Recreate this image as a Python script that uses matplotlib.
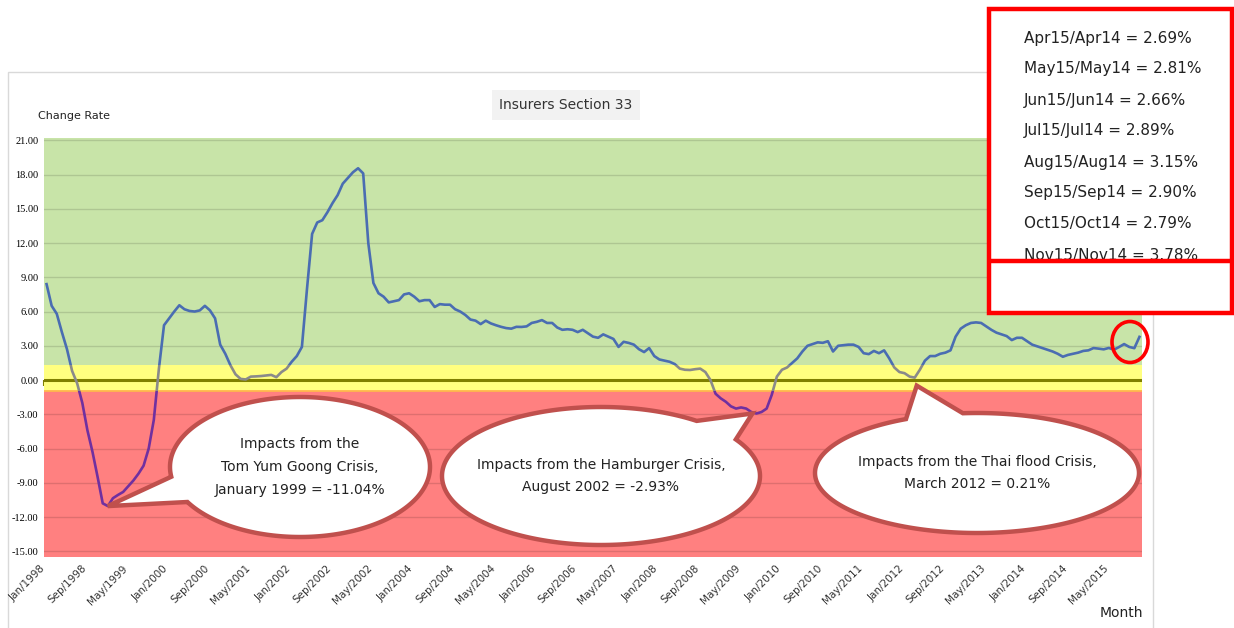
import numpy as np
import matplotlib.pyplot as plt
from matplotlib.patches import Rectangle, Ellipse, Polygon

W, H = 1234, 628

# monthly change rate (%), Jan 1998 .. Nov 2015
r1998 = [8.4, 6.5, 5.8, 4.2, 2.7, 0.8, -0.3, -2.0, -4.4, -6.3, -8.5, -10.8]
r1999 = [-11.04, -10.35, -10.06, -9.8, -9.3, -8.8, -8.2, -7.5, -6.0, -3.5, 1.0, 4.8]
r2000 = [5.4, 6.0, 6.55, 6.2, 6.05, 6.0, 6.1, 6.5, 6.1, 5.4, 3.1, 2.3]
r2001 = [1.3, 0.5, 0.1, 0.05, 0.3, 0.32, 0.35, 0.4, 0.45, 0.25, 0.7, 1.0]
r2002 = [1.6, 2.1, 2.9, 8.0, 12.8, 13.8, 14.0, 14.7, 15.5, 16.2, 17.2, 17.7]
r2003 = [18.2, 18.55, 18.1, 12.0, 8.5, 7.6, 7.3, 6.8, 6.9, 7.0, 7.5, 7.6]
r2004 = [7.3, 6.9, 7.0, 7.0, 6.4, 6.65, 6.6, 6.6, 6.2, 6.0, 5.7, 5.3]
r2005 = [5.2, 4.9, 5.2, 4.96, 4.8, 4.66, 4.55, 4.5, 4.66, 4.65, 4.7, 5.0]
r2006 = [5.1, 5.25, 5.0, 5.0, 4.6, 4.4, 4.45, 4.4, 4.2, 4.4, 4.1, 3.8]
r2007 = [3.7, 4.0, 3.8, 3.6, 2.9, 3.35, 3.25, 3.1, 2.7, 2.45, 2.8, 2.1]
r2008 = [1.8, 1.7, 1.6, 1.4, 1.0, 0.9, 0.88, 0.95, 1.0, 0.7, 0.0, -1.2]
r2009 = [-1.6, -1.9, -2.3, -2.5, -2.4, -2.5, -2.8, -2.93, -2.8, -2.5, -1.3, 0.3]
r2010 = [0.9, 1.1, 1.5, 1.9, 2.5, 3.0, 3.15, 3.3, 3.26, 3.4, 2.5, 3.0]
r2011 = [3.05, 3.1, 3.1, 2.9, 2.35, 2.27, 2.55, 2.35, 2.6, 1.9, 1.1, 0.7]
r2012 = [0.6, 0.3, 0.21, 0.9, 1.7, 2.1, 2.1, 2.3, 2.4, 2.6, 3.8, 4.5]
r2013 = [4.8, 5.0, 5.05, 5.0, 4.7, 4.4, 4.15, 4.0, 3.85, 3.5, 3.7, 3.7]
r2014 = [3.4, 3.1, 2.95, 2.8, 2.65, 2.5, 2.3, 2.04, 2.2, 2.3, 2.4, 2.55]
r2015 = [2.6, 2.8, 2.75, 2.69, 2.81, 2.66, 2.89, 3.15, 2.90, 2.79, 3.78]

rate = np.array(r1998 + r1999 + r2000 + r2001 + r2002 + r2003 + r2004 + r2005 + r2006
                + r2007 + r2008 + r2009 + r2010 + r2011 + r2012 + r2013 + r2014 + r2015)
idx = np.arange(len(rate))

tick_labels = ['Jan/1998', 'Sep/1998', 'May/1999', 'Jan/2000', 'Sep/2000', 'May/2001',
               'Jan/2002', 'Sep/2002', 'May/2002', 'Jan/2004', 'Sep/2004', 'May/2004',
               'Jan/2006', 'Sep/2006', 'May/2007', 'Jan/2008', 'Sep/2008', 'May/2009',
               'Jan/2010', 'Sep/2010', 'May/2011', 'Jan/2012', 'Sep/2012', 'May/2013',
               'Jan/2014', 'Sep/2014', 'May/2015']
yticks = np.arange(-15, 22, 3)

box_lines = ['Apr15/Apr14 = 2.69%', 'May15/May14 = 2.81%', 'Jun15/Jun14 = 2.66%',
             'Jul15/Jul14 = 2.89%', 'Aug15/Aug14 = 3.15%', 'Sep15/Sep14 = 2.90%',
             'Oct15/Oct14 = 2.79%', 'Nov15/Nov14 = 3.78%']

ylo, yhi = -15.5, 21.2
band_lo, band_hi = -1.0, 1.3


def fx(x, y):
    return x / W, 1 - y / H


fig = plt.figure(figsize=(W / 100, H / 100), dpi=100)

# outer chart frame
fig.add_artist(Rectangle(fx(8, 640), 1145 / W, 568 / H, transform=fig.transFigure,
                         fill=False, ec='#d9d9d9', lw=1, zorder=0))

ax = fig.add_axes([44 / W, 1 - 557 / H, (1142 - 44) / W, (557 - 138) / H])
ax.set_xlim(-0.5, len(rate) - 0.5)
ax.set_ylim(ylo, yhi)

ax.axhspan(band_hi, yhi, color='#c8e4a8', zorder=0.1, lw=0)
ax.axhspan(band_lo, band_hi, color='#ffff80', zorder=0.1, lw=0)
ax.axhspan(ylo, band_lo, color='#ff8080', zorder=0.1, lw=0)
ax.axhline(band_lo, color='#ffb84d', lw=1.3, zorder=0.2)

ax.set_axisbelow(True)
ax.set_yticks(yticks)
ax.set_yticklabels([f'{v:.2f}' for v in yticks], fontsize=7.5, family='Liberation Serif')
ax.grid(axis='y', color='black', alpha=0.13, lw=1)
ax.tick_params(axis='y', length=0, pad=4)

ax.set_xticks(idx[::8] - 0.5)
ax.set_xticklabels(tick_labels, rotation=45, ha='right', va='center',
                   rotation_mode='anchor', fontsize=7.5, color='#333333')
ax.tick_params(axis='x', length=0, pad=7)
for s in ax.spines.values():
    s.set_visible(False)

# zero line with tick marks
ax.axhline(0, color='#7f7f00', lw=2.2, zorder=1.5)
sec = ax.secondary_xaxis((0 - ylo) / (yhi - ylo))
sec.set_xticks(idx[::8] - 0.5)
sec.tick_params(direction='out', length=4, width=1.5, color='#7f7f00', labelbottom=False)
for s in sec.spines.values():
    s.set_visible(False)

# line coloured by band
for lo, hi, c in [(band_hi, 40, '#4a6db2'), (band_lo, band_hi, '#8a8a8a'), (-40, band_lo, '#7030a0')]:
    ln, = ax.plot(idx, rate, color=c, lw=1.9, zorder=3, solid_joinstyle='round')
    clip = Rectangle((-5, lo), len(rate) + 10, hi - lo, transform=ax.transData)
    ln.set_clip_path(clip)


def to_px(i, v):
    d = ax.transData.transform((i, v))
    return d[0], H - d[1]


def callout(cx, cy, a, b, t1, t2, tip, text):
    th = np.radians(np.linspace(t2, t1 + 360, 240))
    pts = [fx(cx + a * np.cos(t), cy + b * np.sin(t)) for t in th] + [fx(*tip)]
    fig.add_artist(Polygon(pts, closed=True, transform=fig.transFigure, fc='white',
                           ec='#c0504d', lw=3.2, joinstyle='miter', zorder=4))
    fig.text(*fx(cx, cy), text, ha='center', va='center', fontsize=10,
             linespacing=1.8, color='#222222', zorder=5)


tx, ty = to_px(12, rate[12])
callout(300, 467, 130, 70, 150, 172, (tx, ty),
        'Impacts from the\nTom Yum Goong Crisis,\nJanuary 1999 = -11.04%')
tx, ty = to_px(139, rate[139])
callout(601, 476, 159, 69, -53, -32, (tx - 4, ty),
        'Impacts from the Hamburger Crisis,\nAugust 2002 = -2.93%')
tx, ty = to_px(170, rate[170])
callout(977, 473, 162, 60, -116, -95, (tx + 2, ty + 8),
        'Impacts from the Thai flood Crisis,\nMarch 2012 = 0.21%')

# highlight of the latest months
fig.add_artist(Ellipse(fx(1130, 342), 36 / W, 41 / H, transform=fig.transFigure,
                       fill=False, ec='#ff0000', lw=2.6, zorder=4))

# text box with the latest year-on-year rates
fig.add_artist(Rectangle(fx(989, 313), 243 / W, 304 / H, transform=fig.transFigure,
                         fc='white', ec='#ff0000', lw=3.2, zorder=4))
for k, s in enumerate(box_lines):
    fig.text(*fx(1024, 38 + 31 * k), s, ha='left', va='center', fontsize=11,
             color='#222222', zorder=5)
fig.add_artist(plt.Line2D([993 / W, 1232 / W], [1 - 261 / H] * 2, transform=fig.transFigure,
                          color='#ff0000', lw=3.2, zorder=6))

fig.text(*fx(566, 105), 'Insurers Section 33', ha='center', va='center', fontsize=10,
         color='#333333', bbox=dict(boxstyle='square,pad=0.55', fc='#f2f2f2', ec='none'))
fig.text(*fx(38, 116), 'Change Rate', ha='left', va='center', fontsize=8, color='#222222')
fig.text(*fx(1143, 613), 'Month', ha='right', va='center', fontsize=10, color='#222222')

fig.savefig('out.png', dpi=100)
